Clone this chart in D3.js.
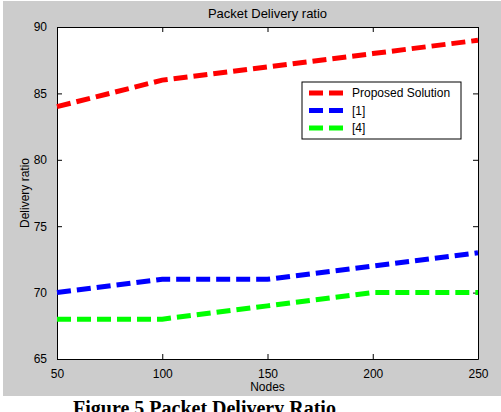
<!DOCTYPE html>
<html>
<head>
<meta charset="utf-8">
<script src="https://cdn.jsdelivr.net/npm/d3@7"></script>
<style>
  body { margin: 0; background: #fff; }
  svg { display: block; }
</style>
</head>
<body>
<div id="chart"></div>
<script>
// data
const nodes = [50, 100, 150, 200, 250]
const proposed = [84, 86, 87, 88, 89]
const ref1 = [70, 71, 71, 72, 73]
const ref4 = [68, 68, 69, 70, 70]
const seriesNames = ["Proposed Solution", "[1]", "[4]"]
const seriesColours = ["#ff0000", "#0000ff", "#00ff00"]
const xTicks = [50, 100, 150, 200, 250]
const yTicks = [65, 70, 75, 80, 85, 90]

const width = 501, height = 412
const plot = {left: 57, top: 27, right: 478, bottom: 359}

let svg = d3.select("#chart")
    .append("svg")
        .attr("width", width)
        .attr("height", height)

// grey figure background
svg.append("rect")
    .attr("x", 3).attr("y", 1)
    .attr("width", width - 3).attr("height", 395)
    .attr("fill", "#cccccc")

svg.append("rect")
    .attr("x", plot.left).attr("y", plot.top)
    .attr("width", plot.right - plot.left).attr("height", plot.bottom - plot.top)
    .attr("fill", "#ffffff")

let x = d3.scaleLinear().domain([50, 250]).range([plot.left, plot.right])
let y = d3.scaleLinear().domain([65, 90]).range([plot.bottom, plot.top])

const font = "Arial, 'Liberation Sans', sans-serif"

// axes, matlab style ticks pointing inwards on every side
let styleAxis = function(g){
    g.select(".domain").attr("stroke", "#000")
    g.selectAll(".tick line").attr("stroke", "#000")
    g.selectAll(".tick text")
        .attr("fill", "#000")
        .attr("font-family", font)
        .attr("font-size", 12)
}

svg.append("g")
    .attr("transform", `translate(0,${plot.bottom})`)
    .call(d3.axisBottom(x).tickValues(xTicks).tickSize(-5).tickPadding(10).tickSizeOuter(0))
    .call(styleAxis)

svg.append("g")
    .attr("transform", `translate(0,${plot.top})`)
    .call(d3.axisTop(x).tickValues(xTicks).tickSize(-5).tickFormat("").tickSizeOuter(0))
    .call(styleAxis)

svg.append("g")
    .attr("transform", `translate(${plot.left},0)`)
    .call(d3.axisLeft(y).tickValues(yTicks).tickSize(-5).tickPadding(10).tickSizeOuter(0))
    .call(styleAxis)

svg.append("g")
    .attr("transform", `translate(${plot.right},0)`)
    .call(d3.axisRight(y).tickValues(yTicks).tickSize(-5).tickFormat("").tickSizeOuter(0))
    .call(styleAxis)

// lines
let line = d3.line()
    .x((d, i) => x(nodes[i]))
    .y(d => y(d))

let allSeries = [proposed, ref1, ref4]

svg.selectAll(".series")
    .data(allSeries)
    .join("path")
    .attr("class", "series")
    .attr("d", line)
    .attr("fill", "none")
    .attr("stroke", (d, i) => seriesColours[i])
    .attr("stroke-width", 5)
    .attr("stroke-dasharray", "14,6")

// titles
svg.append("text")
    .attr("x", (plot.left + plot.right) / 2)
    .attr("y", 18)
    .attr("text-anchor", "middle")
    .attr("font-family", font)
    .attr("font-size", 13)
    .text("Packet Delivery ratio")

svg.append("text")
    .attr("x", (plot.left + plot.right) / 2)
    .attr("y", 391)
    .attr("text-anchor", "middle")
    .attr("font-family", font)
    .attr("font-size", 12)
    .text("Nodes")

svg.append("text")
    .attr("transform", `translate(29,${(plot.top + plot.bottom) / 2}) rotate(-90)`)
    .attr("text-anchor", "middle")
    .attr("font-family", font)
    .attr("font-size", 12)
    .text("Delivery ratio")

// legend
let legend = svg.append("g")

legend.append("rect")
    .attr("x", 302).attr("y", 82)
    .attr("width", 159).attr("height", 57)
    .attr("fill", "#fff")
    .attr("stroke", "#000")

seriesNames.forEach(function(name, i){
    let ly = 93 + i * 17.5
    legend.append("line")
        .attr("x1", 309).attr("x2", 343)
        .attr("y1", ly).attr("y2", ly)
        .attr("stroke", seriesColours[i])
        .attr("stroke-width", 5)
        .attr("stroke-dasharray", "14,6")
    legend.append("text")
        .attr("x", 352).attr("y", ly)
        .attr("dy", "0.35em")
        .attr("font-family", font)
        .attr("font-size", 12)
        .text(name)
})

// figure caption below the grey area
svg.append("text")
    .attr("x", 73)
    .attr("y", 415)
    .attr("font-family", "'Times New Roman', 'Liberation Serif', serif")
    .attr("font-weight", "bold")
    .attr("font-size", 20)
    .text("Figure 5 Packet Delivery Ratio")
</script>
</body>
</html>
